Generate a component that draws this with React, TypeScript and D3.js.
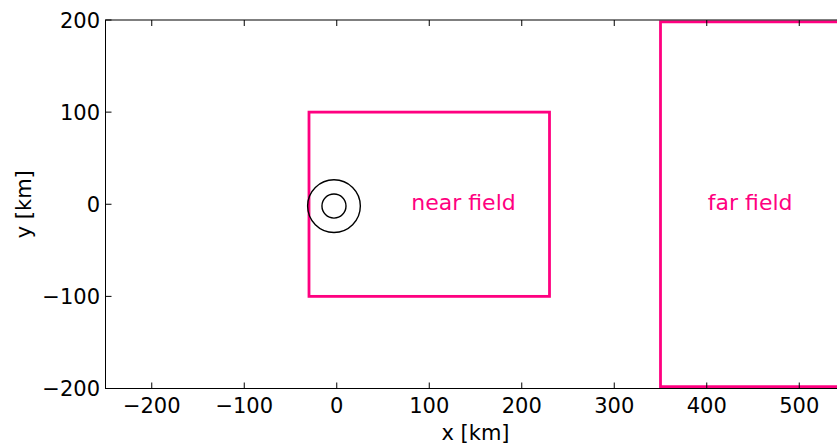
import React from "react";
import * as d3 from "d3";

const xTicks = [-200, -100, 0, 100, 200, 300, 400, 500];
const yTicks = [-200, -100, 0, 100, 200];
const xDomain = [-250, 550];
const yDomain = [-200, 200];

const regionNames = ["near field", "far field"];
const regionX0 = [-30, 350];
const regionX1 = [230, 620];
const regionY0 = [-100, -198];
const regionY1 = [100, 198];
const labelX = [137, 447];
const labelY = [0, 0];

const circleCenter = [-3, -2];
const circleRadii = [28.5, 13];

const PINK = "#ff0080";
const FONT = "DejaVu Sans, sans-serif";

export default function App() {
  const W = 837;
  const H = 447;
  const left = 105.5;
  const right = 845.5;
  const top = 20;
  const bottom = 388.5;
  const x = d3.scaleLinear().domain(xDomain).range([left, right]);
  const y = d3.scaleLinear().domain(yDomain).range([bottom, top]);
  const tick = 6;
  const kx = (right - left) / (xDomain[1] - xDomain[0]);

  return (
    <div style={{ position: "absolute", left: 0, top: 0 }}>
      <svg width={W} height={H} style={{ display: "block", background: "#fff" }} fontFamily={FONT}>
        <defs>
          <clipPath id="plotclip">
            <rect x={left} y={top} width={right - left} height={bottom - top} />
          </clipPath>
        </defs>
        <g clipPath="url(#plotclip)">
          {regionNames.map((n, i) => (
            <rect
              key={n}
              x={x(regionX0[i])}
              y={y(regionY1[i])}
              width={x(regionX1[i]) - x(regionX0[i])}
              height={y(regionY0[i]) - y(regionY1[i])}
              fill="none"
              stroke={PINK}
              strokeWidth={2.8}
            />
          ))}
          {circleRadii.map((r, i) => (
            <circle
              key={i}
              cx={x(circleCenter[0])}
              cy={y(circleCenter[1])}
              r={r * kx}
              fill="none"
              stroke="#000"
              strokeWidth={1.4}
            />
          ))}
          {regionNames.map((n, i) => (
            <text
              key={n}
              x={x(labelX[i])}
              y={y(labelY[i]) + 6}
              textAnchor="middle"
              fill={PINK}
              fontSize={22}
            >
              {n}
            </text>
          ))}
        </g>
        <rect x={left} y={top} width={right - left} height={bottom - top} fill="none" stroke="#000" strokeWidth={1} />
        {xTicks.map((t) => (
          <g key={"x" + t}>
            <line x1={x(t)} x2={x(t)} y1={bottom} y2={bottom - tick} stroke="#000" strokeWidth={1} />
            <line x1={x(t)} x2={x(t)} y1={top} y2={top + tick} stroke="#000" strokeWidth={1} />
            <text x={x(t)} y={412.5} textAnchor="middle" fontSize={21} fill="#000">
              {t < 0 ? "\u2212" + Math.abs(t) : String(t)}
            </text>
          </g>
        ))}
        {yTicks.map((t) => (
          <g key={"y" + t}>
            <line x1={left} x2={left + tick} y1={y(t)} y2={y(t)} stroke="#000" strokeWidth={1} />
            <line x1={right} x2={right - tick} y1={y(t)} y2={y(t)} stroke="#000" strokeWidth={1} />
            <text x={100} y={y(t) + 7.6} textAnchor="end" fontSize={21} fill="#000">
              {t < 0 ? "\u2212" + Math.abs(t) : String(t)}
            </text>
          </g>
        ))}
        <text x={(left + right) / 2} y={440} textAnchor="middle" fontSize={21} fill="#000">
          x [km]
        </text>
        <text
          transform={`translate(31,${(top + bottom) / 2}) rotate(-90)`}
          textAnchor="middle"
          fontSize={21}
          fill="#000"
        >
          y [km]
        </text>
      </svg>
    </div>
  );
}
